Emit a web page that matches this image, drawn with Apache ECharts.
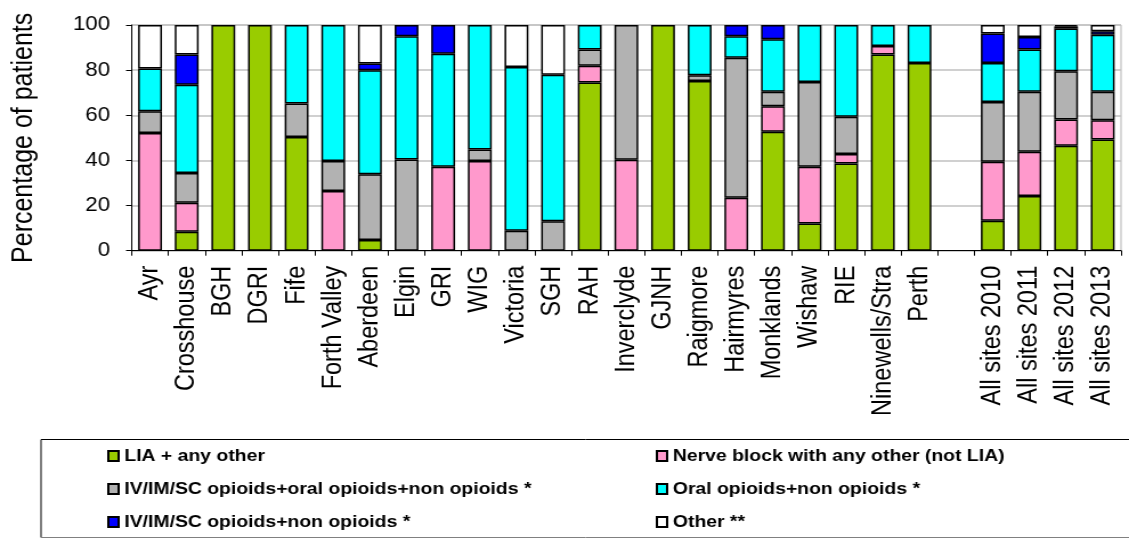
<!DOCTYPE html>
<html>
<head>
<meta charset="utf-8">
<title>Percentage of patients by analgesia type</title>
<script src="https://cdn.jsdelivr.net/npm/echarts@6.0.0/dist/echarts.min.js"></script>
<style>
  html, body { margin: 0; padding: 0; background: #fff; overflow: hidden; }
  /* the reference is stretched sideways, so draw narrower and scale up */
  #chart { width: 990px; height: 539px; transform: scaleX(1.1404); transform-origin: 0 0; }
</style>
</head>
<body>
<div id="chart"></div>
<script>
const FONT = '"Liberation Sans", Arial, sans-serif'

const categories = [
  'Ayr', 'Crosshouse', 'BGH', 'DGRI', 'Fife', 'Forth Valley', 'Aberdeen', 'Elgin', 'GRI',
  'WIG', 'Victoria', 'SGH', 'RAH', 'Inverclyde', 'GJNH', 'Raigmore', 'Hairmyres',
  'Monklands', 'Wishaw', 'RIE', 'Ninewells/Stra', 'Perth', '',
  'All sites 2010', 'All sites 2011', 'All sites 2012', 'All sites 2013'
]

const yTicks = [0, 20, 40, 60, 80, 100]

// percentages, bottom to top of each stack
const lia = [null, 8.4, 100, 100, 50.4, null, 4.7, null, null, null, null, null, 74.5, null, 100, 75.2, null, 52.7, 12.1, 38.6, 86.9, 83.2, null, 13.3, 24.2, 46.5, 49.3]
const nerveBlock = [52.2, 12.8, null, null, null, 26.4, null, null, 37.2, 39.7, null, null, 7.4, 40.3, null, null, 23.5, 11.3, 25.1, 4.2, 3.8, null, null, 26.1, 19.6, 11.6, 8.5]
const ivOralNon = [9.6, 13.2, null, null, 14.8, 13.3, 29.2, 40.4, null, 5.1, 8.8, 13, 7.2, 59.7, null, 2.5, 62, 6.4, 37.6, 16.5, null, null, null, 26.5, 26.6, 21.4, 12.6]
const oralNon = [18.9, 39.1, null, null, 34.8, 60.3, 46, 54.6, 50.1, 55.2, 72.6, 65, 10.9, null, null, 22.3, 9.5, 23.3, 25.2, 40.7, 9.3, 16.8, null, 17.3, 18.8, 18.9, 25.3]
const ivNon = [null, 13.4, null, null, null, null, 3, 5, 12.7, null, null, null, null, null, null, null, 5, 6.3, null, null, null, null, null, 13, 5.5, 1, 1.5]
const other = [19.3, 13.1, null, null, null, null, 17.1, null, null, null, 18.6, 22, null, null, null, null, null, null, null, null, null, null, null, 3.8, 5.3, 0.6, 2.8]

const seriesDefs = [
  { name: 'LIA + any other', data: lia, color: '#99cc00' },
  { name: 'Nerve block with any other (not LIA)', data: nerveBlock, color: '#ff99cc' },
  { name: 'IV/IM/SC opioids+oral opioids+non opioids *', data: ivOralNon, color: '#b2b2b2' },
  { name: 'Oral opioids+non opioids *', data: oralNon, color: '#00ffff' },
  { name: 'IV/IM/SC opioids+non opioids *', data: ivNon, color: '#0000ff' },
  { name: 'Other **', data: other, color: '#ffffff' }
]
const names = seriesDefs.map(s => s.name)

const legendText = { fontFamily: FONT, fontSize: 17, fontWeight: 'bold', color: '#000', lineHeight: 17 }

function legendColumn(items, left) {
  return {
    data: items,
    orient: 'vertical',
    left: left,
    top: 447.5,
    padding: 0,
    itemGap: 16,
    itemWidth: 9,
    itemHeight: 10,
    icon: 'rect',
    selectedMode: false,
    itemStyle: { borderColor: '#000', borderWidth: 2 },
    textStyle: legendText
  }
}

const chart = echarts.init(document.getElementById('chart'))
chart.setOption({
  animation: false,
  backgroundColor: '#fff',
  grid: {
    left: 115.5, right: 7, top: 25, bottom: 288.3,
    show: true, borderColor: '#b3b3b3', borderWidth: 1,
    outerBoundsMode: 'none'
  },
  legend: [
    legendColumn([names[0], names[2], names[4]], 94),
    legendColumn([names[1], names[3], names[5]], 575)
  ],
  graphic: [
    { type: 'line', shape: { x1: 36, y1: 439.5, x2: 995, y2: 439.5 }, style: { stroke: '#000', lineWidth: 1 } },
    { type: 'line', shape: { x1: 36, y1: 439.5, x2: 36, y2: 537.5 }, style: { stroke: '#000', lineWidth: 1 } },
    { type: 'line', shape: { x1: 36, y1: 537.5, x2: 995, y2: 537.5 }, style: { stroke: '#808080', lineWidth: 1 } }
  ],
  xAxis: {
    type: 'category',
    data: categories,
    boundaryGap: true,
    axisLine: { lineStyle: { color: '#000', width: 1 } },
    axisTick: { show: true, length: 5, interval: 0, lineStyle: { color: '#000' } },
    axisLabel: {
      interval: 0, rotate: 90, margin: 15,
      fontFamily: FONT, fontSize: 23.5, color: '#000'
    },
    splitLine: { show: false }
  },
  yAxis: {
    type: 'value',
    min: 0, max: 100, interval: 20,
    name: 'Percentage of patients',
    nameLocation: 'middle',
    nameGap: 82,
    nameTextStyle: { fontFamily: FONT, fontSize: 25, color: '#000' },
    axisLine: { show: true, lineStyle: { color: '#000', width: 1 } },
    axisTick: { show: true, length: 5, lineStyle: { color: '#000' } },
    axisLabel: {
      margin: 19, fontFamily: FONT, fontSize: 19.5, color: '#000',
      formatter: v => (yTicks.includes(v) ? String(v) : '')
    },
    splitLine: { show: true, lineStyle: { color: '#c0c0c0', width: 1.5 } }
  },
  series: seriesDefs.map(s => ({
    name: s.name,
    type: 'bar',
    stack: 'total',
    barWidth: '65%',
    data: s.data,
    itemStyle: { color: s.color, borderColor: '#000', borderWidth: 1.5 },
    emphasis: { disabled: true }
  }))
})
</script>
</body>
</html>
